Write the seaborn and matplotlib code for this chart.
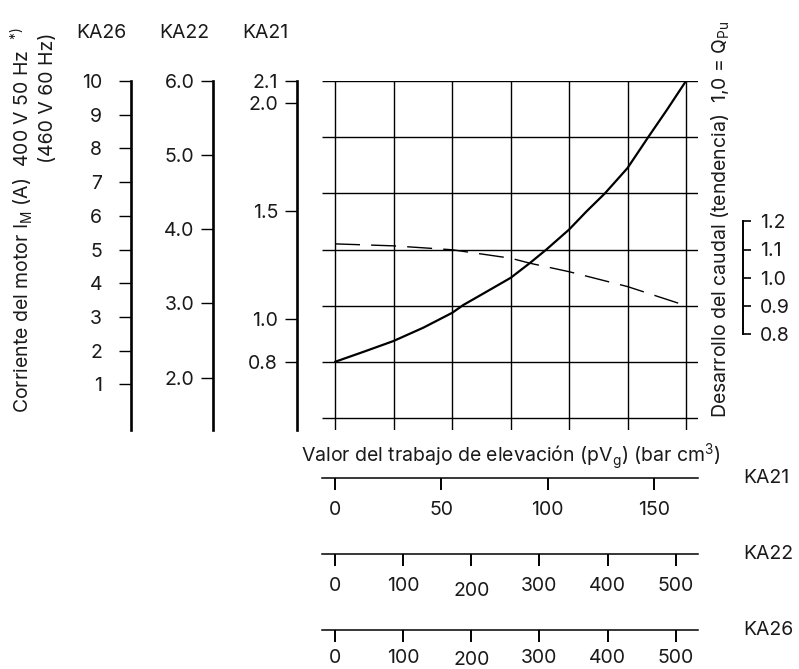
import numpy as np
import matplotlib
matplotlib.use("Agg")
import matplotlib.pyplot as plt
import seaborn as sns
from matplotlib.transforms import ScaledTranslation

# ── 1. Data ───────────────────────────────────────────────────
# lifting work pV (bar cm3) on the KA21 scale vs. motor current KA21 (A)
pv_current = [0, 13.3, 27.4, 41.5, 55.1, 60.3, 69.0, 82.6, 91.7, 99.5,
              110, 118.3, 126.9, 137.5, 147.3, 156, 165]
current_ka21 = [0.80, 0.846, 0.896, 0.958, 1.027, 1.063, 1.112, 1.189, 1.258, 1.321,
                1.412, 1.497, 1.580, 1.697, 1.841, 1.966, 2.10]

# flow development trend (1,0 = Q_Pu)
pv_flow = [0, 27.4, 41.5, 55.1, 82.6, 91.7, 110, 137.5, 165]
flow_q = [1.12, 1.113, 1.106, 1.099, 1.069, 1.051, 1.021, 0.968, 0.90]

# current scales: value at bottom / top of the grid box, labelled ticks
ka26_range = (0, 10)
ka26_ticks = [1, 2, 3, 4, 5, 6, 7, 8, 9, 10]
ka22_range = (1.455, 6.0)
ka22_ticks = [2.0, 3.0, 4.0, 5.0, 6.0]
ka21_range = (0.54, 2.1)
ka21_ticks = [0.8, 1.0, 1.5, 2.0, 2.1]

q_range = (0.5, 1.7)
q_ticks = [0.8, 0.9, 1.0, 1.1, 1.2]

# lifting work scales along the bottom
pv_ka21_range = (0, 165)
pv_ka21_ticks = [0, 50, 100, 150]
pv_ka22_range = (0, 515)
pv_ka22_ticks = [0, 100, 200, 300, 400, 500]
pv_ka26_range = (0, 515)
pv_ka26_ticks = [0, 100, 200, 300, 400, 500]

# ── 2. Layout (pixels) ────────────────────────────────────────
W, H = 799, 669
GX0, GX1 = 335, 686
GY0, GY1 = 81, 418
OVER_L, OVER_R, OVER_B = 13, 12, 12
N_GRID = 7


def px_box(x0, y0, x1, y1):
    return [x0 / W, 1 - y1 / H, (x1 - x0) / W, (y1 - y0) / H]


def ext_y(lo, hi):
    return lo - (hi - lo) * OVER_B / (GY1 - GY0), hi


def ext_x(lo, hi):
    s = (hi - lo) / (GX1 - GX0)
    return lo - s * OVER_L, hi + s * OVER_R


sns.set_theme(style="white")
plt.rcParams["font.family"] = ["Inter", "DejaVu Sans"]
plt.rcParams["text.color"] = "#1a1a1a"
plt.rcParams["xtick.color"] = "#1a1a1a"
plt.rcParams["ytick.color"] = "#1a1a1a"
FS = 14

fig = plt.figure(figsize=(W / 100, H / 100), dpi=100)

# ── 3. Main grid with the curves ──────────────────────────────
ax = fig.add_axes(px_box(GX0 - OVER_L, GY0, GX1 + OVER_R, GY1 + OVER_B))
ax.set_xlim(ext_x(*pv_ka21_range))
ax.set_ylim(ext_y(*ka21_range))
ax.axis("off")
xl, yl = ax.get_xlim(), ax.get_ylim()
ax.hlines(np.linspace(*ka21_range, N_GRID), xl[0], xl[1], color="black", lw=1.0)
ax.vlines(np.linspace(*pv_ka21_range, N_GRID), yl[0], ka21_range[1], color="black", lw=1.0)
sns.lineplot(x=pv_current, y=current_ka21, ax=ax, color="black", lw=1.6)

qline = ax.twinx()
qline.set_ylim(ext_y(*q_range))
qline.axis("off")
sns.lineplot(x=pv_flow, y=flow_q, ax=qline, color="black", lw=1.0,
             linestyle=(0, (18, 8)))

# ── 4. Left current scales ────────────────────────────────────
left_scales = [
    (130.7, ka26_range, ka26_ticks, [str(t) for t in ka26_ticks], 12),
    (213.3, ka22_range, ka22_ticks, [f"{t:.1f}" for t in ka22_ticks], 4.8),
    (296.7, ka21_range, ka21_ticks, [f"{t:.1f}" for t in ka21_ticks], 4.8),
]
for x, rng, ticks, labels, pad in left_scales:
    sax = fig.add_axes(px_box(x, GY0, x + 1, GY1 + OVER_B))
    sax.patch.set_visible(False)
    sax.set_ylim(ext_y(*rng))
    sax.set_xticks([])
    sax.set_yticks(ticks)
    sax.set_yticklabels(labels, fontsize=FS)
    for side in ["top", "right", "bottom"]:
        sax.spines[side].set_visible(False)
    sax.spines["left"].set_linewidth(1.9)
    sax.spines["left"].set_color("black")
    sax.tick_params(axis="y", direction="out", length=8.7, width=1.0,
                    pad=pad, left=True, colors="black", labelcolor="#1a1a1a")

for name, x in zip(["KA26", "KA22", "KA21"], [101, 184, 265]):
    fig.text(x / W, 1 - 33 / H, name, ha="center", va="center", fontsize=FS)

fig.text(22 / W, 1 - 413 / H,
         "Corriente del motor I$_\\mathregular{M}$ (A)  400 V 50 Hz  $^\\mathregular{*)}$",
         rotation=90, rotation_mode="anchor", ha="left", va="center", fontsize=FS)
fig.text(47.5 / W, 1 - 163 / H, "(460 V 60 Hz)",
         rotation=90, rotation_mode="anchor", ha="left", va="center", fontsize=FS)

# ── 5. Right flow scale ───────────────────────────────────────
fig.text(721 / W, 1 - 418 / H,
         "Desarrollo del caudal (tendencia)  1,0 = Q$_\\mathregular{Pu}$",
         rotation=90, rotation_mode="anchor", ha="left", va="center", fontsize=FS)

qax = fig.add_axes(px_box(742.3, GY0, 743.3, GY1 + OVER_B))
qax.patch.set_visible(False)
qax.set_ylim(ext_y(*q_range))
qax.set_xticks([])
qax.yaxis.tick_right()
qax.set_yticks(q_ticks)
qax.set_yticklabels([f"{t:.1f}" for t in q_ticks], fontsize=FS)
for side in ["top", "left", "bottom"]:
    qax.spines[side].set_visible(False)
qax.spines["right"].set_bounds(q_ticks[0], q_ticks[-1])
qax.spines["right"].set_linewidth(1.4)
qax.spines["right"].set_color("black")
qax.tick_params(axis="y", direction="out", length=6, width=1.2, pad=6,
                right=True, colors="black", labelcolor="#1a1a1a")

# ── 6. Bottom lifting work scales ─────────────────────────────
fig.text((GX0 + GX1) / 2 / W, 1 - 457 / H,
         "Valor del trabajo de elevación (pV$_\\mathregular{g}$) (bar cm$^\\mathregular{3}$)",
         ha="center", va="center", fontsize=FS)

# (line y in px, name, range, ticks, label pad, drop of the "200" label in px)
bottom_scales = [
    (478, "KA21", pv_ka21_range, pv_ka21_ticks, 8, 0),
    (554, "KA22", pv_ka22_range, pv_ka22_ticks, 8, 5),
    (630, "KA26", pv_ka26_range, pv_ka26_ticks, 5, 2),
]
shifted = []
for y, name, rng, ticks, pad, drop in bottom_scales:
    bax = fig.add_axes(px_box(GX0 - OVER_L, y - 1, GX1 + OVER_R, y))
    bax.patch.set_visible(False)
    bax.set_xlim(ext_x(*rng))
    bax.set_yticks([])
    bax.set_xticks(ticks)
    bax.set_xticklabels([str(t) for t in ticks], fontsize=FS)
    for side in ["top", "left", "right"]:
        bax.spines[side].set_visible(False)
    bax.spines["bottom"].set_linewidth(1.1)
    bax.spines["bottom"].set_color("black")
    bax.tick_params(axis="x", direction="out", length=8.4, width=1.4, pad=pad,
                    bottom=True, colors="black", labelcolor="#1a1a1a")
    fig.text(743 / W, 1 - y / H, name, ha="left", va="center", fontsize=FS)
    if drop:
        shifted.append((bax, drop))

# the "200" labels sit a little lower in the original
fig.canvas.draw()
for bax, drop in shifted:
    shift = ScaledTranslation(0, -drop / 100, fig.dpi_scale_trans)
    for lab in bax.get_xticklabels():
        if lab.get_text() == "200":
            lab.set_transform(lab.get_transform() + shift)

fig.savefig("out.png", dpi=100)
